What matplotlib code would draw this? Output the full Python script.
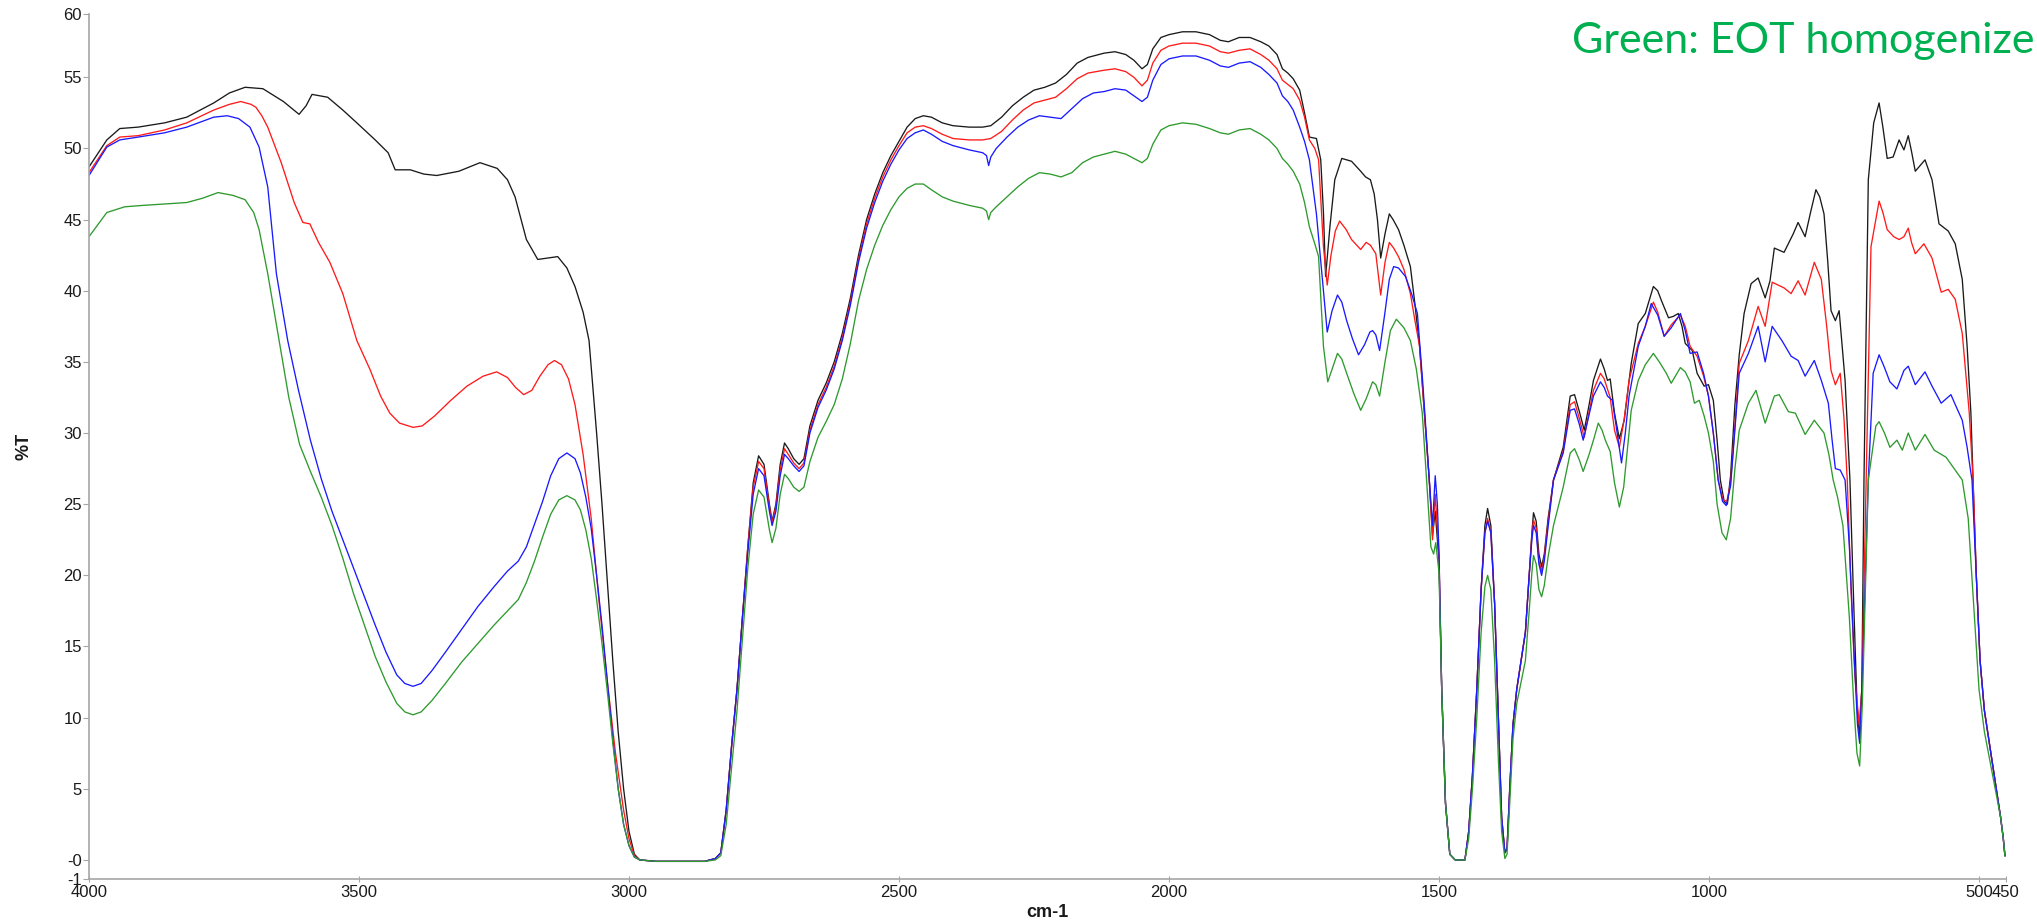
import numpy as np
from matplotlib import pyplot as plt

# wavenumber (cm-1) / %T
black_wn = [4000, 3967, 3943, 3909, 3860, 3819, 3769, 3740, 3711, 3678, 3640, 3611, 3598, 3587, 3558, 3530, 3504, 3470, 3446, 3433,
            3405, 3380, 3356, 3315, 3276, 3244, 3225, 3211, 3190, 3169, 3150, 3132, 3115, 3100, 3085, 3074, 3060, 3050, 3040, 3030,
            3020, 3010, 3000, 2990, 2980, 2950, 2900, 2860, 2840, 2830, 2820, 2810, 2800, 2790, 2780, 2770, 2760, 2750, 2740, 2735,
            2728, 2720, 2712, 2705, 2695, 2685, 2676, 2665, 2650, 2635, 2620, 2605, 2590, 2575, 2560, 2545, 2530, 2515, 2500, 2485,
            2470, 2455, 2440, 2420, 2400, 2370, 2345, 2330, 2310, 2290, 2270, 2250, 2230, 2210, 2190, 2170, 2150, 2120, 2100, 2080,
            2065, 2050, 2040, 2030, 2015, 2000, 1975, 1950, 1925, 1905, 1890, 1870, 1850, 1830, 1815, 1800, 1790, 1780, 1770, 1758,
            1749, 1740, 1727, 1719, 1714, 1710, 1702, 1693, 1680, 1662, 1645, 1636, 1627, 1620, 1614, 1608, 1600, 1592, 1585, 1575,
            1565, 1553, 1545, 1536, 1527, 1518, 1512, 1507, 1500, 1495, 1488, 1480, 1470, 1452, 1445, 1438, 1430, 1422, 1415, 1410,
            1404, 1397, 1390, 1384, 1378, 1374, 1369, 1363, 1356, 1348, 1340, 1333, 1328, 1325, 1320, 1315, 1310, 1305, 1298, 1288,
            1270, 1257, 1249, 1240, 1231, 1222, 1214, 1201, 1194, 1188, 1183, 1175, 1166, 1157, 1144, 1131, 1118, 1103, 1095, 1088,
            1075, 1066, 1057, 1050, 1044, 1031, 1022, 1009, 1001, 992, 985, 979, 972, 966, 960, 952, 944, 935, 922, 909,
            896, 887, 879, 861, 844, 835, 822, 812, 802, 795, 787, 780, 774, 766, 759, 748, 739, 732, 726, 721,
            717, 713, 705, 695, 685, 678, 670, 659, 648, 639, 631, 625, 618, 600, 587, 574, 557, 544, 531, 522,
            515, 511, 505, 498, 490, 480, 470, 460, 455, 452]
black_t = [48.7, 50.6, 51.4, 51.5, 51.8, 52.2, 53.2, 53.9, 54.3, 54.2, 53.3, 52.4, 53.0, 53.8, 53.6, 52.7, 51.8, 50.6, 49.7, 48.5,
           48.5, 48.2, 48.1, 48.4, 49.0, 48.6, 47.8, 46.6, 43.6, 42.2, 42.3, 42.4, 41.6, 40.3, 38.5, 36.5, 30, 25, 19.5, 14,
           9, 5, 2, 0.4, 0.0, -0.1, -0.1, -0.1, 0.1, 0.5, 3.5, 8, 12, 17, 22, 26.5, 28.4, 27.8, 25, 23.8,
           25, 27.8, 29.3, 28.9, 28.2, 27.8, 28.2, 30.5, 32.3, 33.5, 35, 37, 39.5, 42.5, 45, 46.8, 48.3, 49.5, 50.5, 51.5,
           52.1, 52.3, 52.2, 51.8, 51.6, 51.5, 51.5, 51.6, 52.2, 53, 53.6, 54.1, 54.3, 54.6, 55.2, 56, 56.4, 56.7, 56.8, 56.6,
           56.2, 55.6, 55.9, 57, 57.8, 58.0, 58.2, 58.2, 58.0, 57.6, 57.5, 57.8, 57.8, 57.5, 57.2, 56.6, 55.6, 55.3, 54.9, 54.1,
           52.5, 50.8, 50.7, 49.2, 45.5, 41.0, 44.5, 47.8, 49.3, 49.1, 48.4, 48.0, 47.8, 46.8, 45.0, 42.3, 44, 45.4, 45.0, 44.3,
           43.2, 41.7, 39.2, 36.1, 31.4, 26.7, 22.8, 24.5, 21, 12, 4, 0.4, 0, 0, 2, 6, 12, 19, 23.5, 24.7,
           23.5, 18, 10, 3, 0.5, 0.8, 5, 9.5, 12, 14, 16, 20, 23, 24.4, 23.8, 21.5, 20.6, 21.5, 24, 26.7,
           29.0, 32.6, 32.7, 31.5, 30.2, 32, 33.7, 35.2, 34.5, 33.7, 33.8, 31.4, 29.6, 30.9, 34.9, 37.7, 38.4, 40.3, 40.0, 39.3,
           38.1, 38.2, 38.4, 37.5, 36.3, 35.8, 34.2, 33.3, 33.4, 32.3, 29.5, 26.7, 25.2, 25.0, 27, 32, 35.5, 38.4, 40.5, 40.9,
           39.5, 40.7, 43.0, 42.7, 44.0, 44.8, 43.8, 45.5, 47.1, 46.6, 45.4, 42, 38.6, 37.9, 38.6, 33.7, 26.7, 18, 11, 8.5,
           12, 26.7, 47.8, 51.8, 53.2, 51.5, 49.3, 49.4, 50.6, 49.9, 50.9, 49.8, 48.4, 49.2, 47.8, 44.7, 44.2, 43.3, 40.8, 36.1,
           31.4, 26.7, 20, 14, 10.5, 8, 5.5, 3, 1.5, 0.3]

red_wn = [4000, 3967, 3943, 3909, 3860, 3819, 3769, 3740, 3719, 3700, 3691, 3680, 3669, 3644, 3620, 3604, 3591, 3575, 3554, 3530,
          3504, 3480, 3460, 3443, 3425, 3400, 3383, 3360, 3330, 3300, 3270, 3245, 3225, 3210, 3195, 3180, 3165, 3150, 3138, 3125,
          3112, 3100, 3085, 3070, 3055, 3040, 3025, 3010, 3000, 2990, 2980, 2950, 2860, 2840, 2830, 2820, 2810, 2800, 2790, 2780,
          2770, 2760, 2750, 2740, 2735, 2728, 2720, 2712, 2705, 2695, 2685, 2676, 2665, 2650, 2635, 2620, 2605, 2590, 2575, 2560,
          2545, 2530, 2515, 2500, 2485, 2470, 2455, 2440, 2420, 2400, 2370, 2345, 2330, 2310, 2290, 2270, 2250, 2230, 2210, 2190,
          2170, 2150, 2120, 2100, 2080, 2065, 2050, 2040, 2030, 2015, 2000, 1975, 1950, 1925, 1905, 1890, 1870, 1850, 1830, 1815,
          1800, 1790, 1780, 1770, 1758, 1749, 1740, 1730, 1723, 1714, 1707, 1700, 1692, 1684, 1672, 1662, 1645, 1635, 1627, 1617,
          1608, 1600, 1592, 1584, 1575, 1565, 1553, 1545, 1536, 1527, 1518, 1512, 1507, 1500, 1495, 1488, 1480, 1470, 1452, 1445,
          1438, 1430, 1422, 1415, 1410, 1404, 1397, 1390, 1384, 1378, 1374, 1369, 1363, 1356, 1348, 1340, 1333, 1328, 1325, 1320,
          1315, 1310, 1305, 1298, 1288, 1270, 1257, 1249, 1240, 1231, 1222, 1214, 1201, 1194, 1188, 1183, 1175, 1166, 1157, 1148,
          1131, 1118, 1103, 1095, 1083, 1070, 1053, 1044, 1035, 1022, 1010, 1001, 992, 983, 974, 967, 960, 952, 944, 927,
          909, 896, 883, 861, 848, 835, 822, 805, 792, 782, 774, 766, 757, 750, 744, 737, 730, 722, 717, 709,
          700, 685, 678, 670, 658, 648, 639, 631, 625, 618, 602, 587, 570, 557, 544, 531, 518, 511, 505, 498,
          490, 480, 470, 460, 455, 452]
red_t = [48.3, 50.2, 50.8, 50.9, 51.3, 51.8, 52.7, 53.1, 53.3, 53.1, 52.9, 52.3, 51.5, 49.0, 46.2, 44.8, 44.7, 43.4, 42.0, 39.8,
         36.5, 34.5, 32.6, 31.4, 30.7, 30.4, 30.5, 31.2, 32.3, 33.3, 34.0, 34.3, 33.9, 33.2, 32.7, 33.0, 34.0, 34.8, 35.1, 34.8,
         33.8, 32.0, 28.5, 24, 18, 12.5, 7.5, 3.5, 1.5, 0.3, 0.0, -0.1, -0.1, 0.1, 0.5, 3.5, 8, 12, 17, 22,
         26.2, 28.0, 27.5, 24.8, 23.7, 24.8, 27.4, 28.9, 28.5, 27.9, 27.5, 27.9, 30.2, 32, 33.2, 34.7, 36.7, 39.2, 42.2, 44.7,
         46.5, 48, 49.2, 50.2, 51.1, 51.5, 51.6, 51.4, 51, 50.7, 50.6, 50.6, 50.7, 51.2, 52, 52.7, 53.2, 53.4, 53.6, 54.2,
         54.9, 55.3, 55.5, 55.6, 55.4, 55.0, 54.4, 54.8, 56, 56.9, 57.2, 57.4, 57.4, 57.2, 56.8, 56.7, 56.9, 57.0, 56.6, 56.2,
         55.6, 54.8, 54.5, 54.2, 53.4, 52.2, 50.6, 50, 49.2, 43.1, 40.4, 42.5, 44.2, 44.9, 44.3, 43.6, 42.9, 43.4, 43.2, 42.6,
         39.7, 42, 43.4, 43.0, 42.4, 41.5, 39.8, 38, 36.1, 31.4, 26.7, 22.5, 25.7, 21.5, 12, 4, 0.4, 0, 0, 2,
         6, 12, 19, 23, 24.0, 23, 18, 10, 3, 0.5, 0.8, 5, 9.5, 12, 14, 16, 20, 22.8, 23.9, 23.3,
         21, 20.3, 21.3, 23.7, 26.7, 28.7, 32.0, 32.2, 31, 29.7, 31.5, 33.0, 34.2, 33.8, 33.1, 32.5, 30.2, 29.0, 31, 33.7,
         36.3, 37.5, 39.2, 38.5, 36.8, 37.6, 38.3, 37.5, 36.1, 35.4, 34, 32.6, 30, 26.7, 25.3, 25.2, 26.5, 30.5, 34.9, 36.5,
         38.9, 37.5, 40.6, 40.2, 39.8, 40.7, 39.7, 42.0, 40.8, 37.5, 34.4, 33.4, 34.2, 31, 26.7, 19, 13, 9.5, 12, 26.7,
         43.1, 46.3, 45.5, 44.3, 43.8, 43.6, 43.8, 44.4, 43.4, 42.6, 43.3, 42.3, 39.9, 40.1, 39.4, 37.0, 31.4, 26.7, 20, 14,
         10.5, 8, 5.5, 3, 1.5, 0.3]

blue_wn = [4000, 3967, 3943, 3909, 3860, 3819, 3769, 3744, 3723, 3702, 3685, 3669, 3653, 3632, 3612, 3590, 3570, 3550, 3530, 3510,
           3490, 3470, 3450, 3430, 3415, 3400, 3385, 3365, 3340, 3310, 3280, 3250, 3225, 3205, 3190, 3175, 3160, 3145, 3130, 3115,
           3100, 3090, 3080, 3070, 3060, 3050, 3040, 3030, 3020, 3010, 3000, 2990, 2980, 2950, 2860, 2840, 2830, 2820, 2810, 2800,
           2790, 2780, 2770, 2760, 2750, 2740, 2735, 2728, 2720, 2712, 2705, 2695, 2685, 2676, 2665, 2650, 2635, 2620, 2605, 2590,
           2575, 2560, 2545, 2530, 2515, 2500, 2485, 2470, 2455, 2440, 2420, 2400, 2370, 2345, 2338, 2334, 2330, 2320, 2300, 2280,
           2260, 2240, 2220, 2200, 2180, 2160, 2140, 2120, 2100, 2080, 2065, 2050, 2040, 2030, 2015, 2000, 1975, 1950, 1925, 1905,
           1890, 1870, 1850, 1830, 1815, 1800, 1790, 1780, 1770, 1758, 1749, 1740, 1727, 1716, 1707, 1698, 1688, 1680, 1671, 1660,
           1649, 1638, 1628, 1623, 1617, 1610, 1600, 1592, 1584, 1575, 1562, 1550, 1540, 1530, 1523, 1518, 1512, 1507, 1503, 1500,
           1495, 1488, 1480, 1470, 1452, 1445, 1438, 1430, 1422, 1415, 1410, 1404, 1397, 1390, 1384, 1378, 1374, 1369, 1363, 1356,
           1348, 1340, 1333, 1328, 1325, 1320, 1315, 1310, 1305, 1298, 1288, 1270, 1257, 1249, 1240, 1233, 1222, 1214, 1201, 1194,
           1188, 1179, 1170, 1162, 1155, 1148, 1131, 1118, 1107, 1095, 1083, 1070, 1053, 1044, 1035, 1022, 1010, 1001, 992, 983,
           975, 968, 960, 952, 944, 927, 909, 896, 883, 865, 848, 835, 822, 805, 792, 779, 772, 766, 757, 748,
           740, 732, 725, 721, 716, 705, 696, 685, 675, 665, 652, 639, 631, 618, 600, 587, 570, 552, 544, 531,
           522, 513, 505, 498, 490, 480, 470, 460, 455, 452]
blue_t = [48.1, 50.1, 50.6, 50.8, 51.1, 51.5, 52.2, 52.3, 52.1, 51.5, 50.1, 47.3, 41.2, 36.5, 33.0, 29.5, 26.8, 24.5, 22.5, 20.5,
          18.5, 16.5, 14.6, 13.0, 12.4, 12.2, 12.4, 13.3, 14.6, 16.2, 17.8, 19.2, 20.3, 21.0, 22.0, 23.6, 25.2, 27.0, 28.2, 28.6,
          28.2, 27.2, 25.5, 23.3, 20, 16.5, 12.5, 8.5, 5, 2.5, 1, 0.2, 0.0, -0.1, -0.1, 0.1, 0.5, 3.5, 8, 12,
          17, 21.6, 25.7, 27.5, 27.0, 24.5, 23.5, 24.5, 27, 28.5, 28.2, 27.7, 27.3, 27.7, 30, 31.8, 33, 34.5, 36.5, 39,
          42, 44.4, 46.2, 47.7, 48.9, 49.9, 50.7, 51.1, 51.3, 51.0, 50.5, 50.2, 49.9, 49.7, 49.5, 48.8, 49.4, 50.0, 50.8, 51.5,
          52.0, 52.3, 52.2, 52.1, 52.8, 53.5, 53.9, 54.0, 54.2, 54.1, 53.7, 53.3, 53.6, 54.8, 55.9, 56.3, 56.5, 56.5, 56.2, 55.8,
          55.7, 56.0, 56.1, 55.7, 55.2, 54.6, 53.7, 53.3, 52.7, 51.5, 50.5, 49.2, 45.4, 40.8, 37.1, 38.6, 39.7, 39.2, 37.9, 36.6,
          35.5, 36.2, 37.1, 37.2, 36.9, 35.8, 38.5, 40.8, 41.7, 41.6, 41.0, 39.7, 38.4, 33.5, 29.5, 26.7, 23.5, 27.0, 25, 21.5,
          12, 4, 0.4, 0, 0, 2, 6, 12, 19, 23, 23.8, 23, 18, 10, 3, 0.5, 0.8, 5, 9.5, 12,
          14, 16, 20, 22.5, 23.5, 23, 20.8, 20.0, 21, 23.4, 26.7, 28.6, 31.6, 31.7, 30.6, 29.5, 31.3, 32.6, 33.6, 33.2,
          32.6, 32.3, 30, 27.9, 30, 32.6, 36.1, 37.5, 39.1, 38.3, 36.8, 37.4, 38.4, 37.2, 35.6, 35.7, 34.2, 32.6, 30, 26.7,
          25.2, 24.9, 26.3, 30.2, 34.2, 35.6, 37.5, 35.0, 37.5, 36.5, 35.4, 35.1, 34.0, 35.1, 33.7, 32.1, 29.5, 27.5, 27.4, 26.7,
          22, 15, 9.5, 8.2, 13, 26.7, 34.2, 35.5, 34.6, 33.6, 33.1, 34.4, 34.7, 33.4, 34.3, 33.3, 32.1, 32.7, 32.0, 30.9,
          29.0, 26.7, 20, 14, 10.5, 8, 5.5, 3, 1.5, 0.3]

green_wn = [4000, 3967, 3934, 3900, 3860, 3819, 3790, 3761, 3733, 3711, 3695, 3685, 3669, 3648, 3630, 3610, 3590, 3570, 3550, 3530,
            3510, 3490, 3470, 3450, 3430, 3415, 3400, 3385, 3365, 3340, 3310, 3280, 3250, 3225, 3205, 3190, 3175, 3160, 3145, 3130,
            3115, 3100, 3090, 3080, 3070, 3060, 3050, 3040, 3030, 3020, 3010, 3000, 2990, 2980, 2950, 2860, 2840, 2830, 2820, 2810,
            2800, 2790, 2780, 2770, 2760, 2750, 2740, 2735, 2728, 2720, 2712, 2705, 2695, 2685, 2676, 2665, 2650, 2635, 2620, 2605,
            2590, 2575, 2560, 2545, 2530, 2515, 2500, 2485, 2470, 2455, 2440, 2420, 2400, 2370, 2345, 2338, 2334, 2330, 2320, 2300,
            2280, 2260, 2240, 2220, 2200, 2180, 2160, 2140, 2120, 2100, 2080, 2065, 2050, 2040, 2030, 2015, 2000, 1975, 1950, 1925,
            1905, 1890, 1870, 1850, 1830, 1815, 1800, 1790, 1780, 1770, 1758, 1749, 1740, 1730, 1723, 1714, 1706, 1697, 1688, 1680,
            1671, 1658, 1645, 1635, 1623, 1617, 1610, 1600, 1590, 1579, 1565, 1553, 1542, 1531, 1523, 1515, 1510, 1506, 1500, 1495,
            1488, 1480, 1470, 1452, 1445, 1438, 1430, 1422, 1415, 1410, 1404, 1397, 1390, 1384, 1378, 1374, 1369, 1363, 1356, 1348,
            1340, 1333, 1328, 1325, 1320, 1315, 1310, 1305, 1298, 1288, 1270, 1257, 1249, 1240, 1233, 1222, 1214, 1205, 1198, 1192,
            1183, 1175, 1166, 1158, 1150, 1144, 1131, 1118, 1103, 1092, 1079, 1070, 1053, 1044, 1035, 1027, 1018, 1009, 1001, 992,
            985, 976, 968, 960, 952, 944, 927, 913, 896, 879, 870, 853, 840, 822, 805, 787, 778, 770, 762, 752,
            740, 732, 726, 721, 716, 705, 691, 685, 675, 665, 652, 642, 631, 618, 600, 583, 561, 544, 531, 520,
            510, 500, 490, 480, 470, 460, 455, 452]
green_t = [43.8, 45.5, 45.9, 46.0, 46.1, 46.2, 46.5, 46.9, 46.7, 46.4, 45.5, 44.3, 41.2, 36.5, 32.5, 29.2, 27.3, 25.5, 23.5, 21.2,
           18.7, 16.5, 14.3, 12.5, 11.0, 10.4, 10.2, 10.4, 11.2, 12.4, 13.9, 15.2, 16.5, 17.5, 18.3, 19.5, 21.0, 22.7, 24.3, 25.3,
           25.6, 25.3, 24.6, 23.2, 21.2, 18.3, 15.2, 11.8, 8.2, 5, 2.5, 1, 0.2, 0.0, -0.1, -0.1, 0.0, 0.3, 2.5, 6.5,
           10.5, 15.5, 20.5, 24.3, 26.0, 25.5, 23.2, 22.3, 23.3, 25.7, 27.1, 26.8, 26.2, 25.9, 26.2, 28, 29.7, 30.8, 32.0, 33.8,
           36.3, 39.3, 41.5, 43.2, 44.6, 45.7, 46.6, 47.2, 47.5, 47.5, 47.1, 46.6, 46.3, 46.0, 45.8, 45.6, 45.0, 45.5, 45.9, 46.6,
           47.3, 47.9, 48.3, 48.2, 48.0, 48.3, 49.0, 49.4, 49.6, 49.8, 49.6, 49.3, 49.0, 49.3, 50.3, 51.3, 51.6, 51.8, 51.7, 51.4,
           51.1, 51.0, 51.3, 51.4, 51.0, 50.6, 50.0, 49.3, 48.9, 48.4, 47.5, 46.2, 44.5, 43.3, 42.4, 36.1, 33.6, 34.6, 35.6, 35.2,
           34.2, 32.8, 31.6, 32.4, 33.6, 33.4, 32.6, 35, 37.2, 38.0, 37.4, 36.5, 34.5, 31.4, 26.7, 22, 21.5, 22.3, 20.2, 12,
           4, 0.4, 0, 0, 1.5, 5, 10, 16, 19.2, 20.0, 19, 14, 7, 2, 0.1, 0.4, 4, 8.5, 11, 12.5,
           14, 17.5, 20.2, 21.4, 20.8, 19, 18.5, 19.3, 21.3, 23.5, 26.2, 28.6, 28.9, 28.1, 27.3, 28.5, 29.5, 30.7, 30.2, 29.5,
           28.7, 26.5, 24.8, 26.2, 29.3, 31.6, 33.7, 34.8, 35.6, 35.0, 34.2, 33.5, 34.6, 34.3, 33.6, 32.1, 32.3, 31.2, 30.0, 28,
           25, 23, 22.5, 24, 27.5, 30.2, 32.1, 33.0, 30.7, 32.6, 32.7, 31.5, 31.4, 29.9, 30.9, 30.0, 28.5, 26.7, 25.5, 23.5,
           17, 11, 7.5, 6.6, 11, 26.7, 30.5, 30.8, 30, 29.0, 29.5, 28.8, 30.0, 28.8, 29.9, 28.8, 28.3, 27.4, 26.7, 24,
           18, 12, 9, 7, 5, 3, 1.5, 0.3]

x_ticks = [4000, 3500, 3000, 2500, 2000, 1500, 1000, 500, 450]
y_ticks = [-1.34, 0, 5, 10, 15, 20, 25, 30, 35, 40, 45, 50, 55, 59.45]
y_tick_labels = ["-1", "-0", "5", "10", "15", "20", "25", "30", "35", "40", "45", "50", "55", "60"]

plt.rcParams['font.family'] = ['Liberation Sans', 'DejaVu Sans']

W, H = 2037, 924
fig = plt.figure(figsize=(W / 100, H / 100), dpi=100)
ax = fig.add_axes([89 / W, 1 - 879 / H, (2006 - 89) / W, (879 - 14) / H])

ax.plot(black_wn, black_t, color="#1a1a1a", lw=0.95)
ax.plot(red_wn, red_t, color="#ff1a1a", lw=0.95)
ax.plot(blue_wn, blue_t, color="#1a1aff", lw=0.95)
ax.plot(green_wn, green_t, color="#2e9a2e", lw=0.95)

ax.set_xlim(4000, 450)
ax.set_ylim(-1.34, 59.45)

for side in ["top", "right"]:
    ax.spines[side].set_visible(False)
for side in ["left", "bottom"]:
    ax.spines[side].set_color("#a6a6a6")
    ax.spines[side].set_linewidth(1.2)

ax.set_xticks(x_ticks)
ax.set_xticklabels([str(v) for v in x_ticks])
ax.set_yticks(y_ticks)
ax.set_yticklabels(y_tick_labels)
ax.tick_params(axis="both", colors="#a6a6a6", labelcolor="#1a1a1a", labelsize=12, length=4, width=0.8)
ax.tick_params(axis="x", direction="inout", pad=2)
ax.tick_params(axis="y", pad=1)

ax.set_xlabel("cm-1", fontsize=13, fontweight="bold", color="#1a1a1a", labelpad=3)
ax.set_ylabel("%T", fontsize=13, fontweight="bold", color="#1a1a1a")
ax.yaxis.set_label_coords(-0.0297, 0.5)

fig.text(1572 / W, 1 - 53 / H, "Green: EOT homogenize", color="#00b050", fontsize=31,
         family=["Lato", "DejaVu Sans"], va="baseline", ha="left")

fig.savefig("out.png", dpi=100)
